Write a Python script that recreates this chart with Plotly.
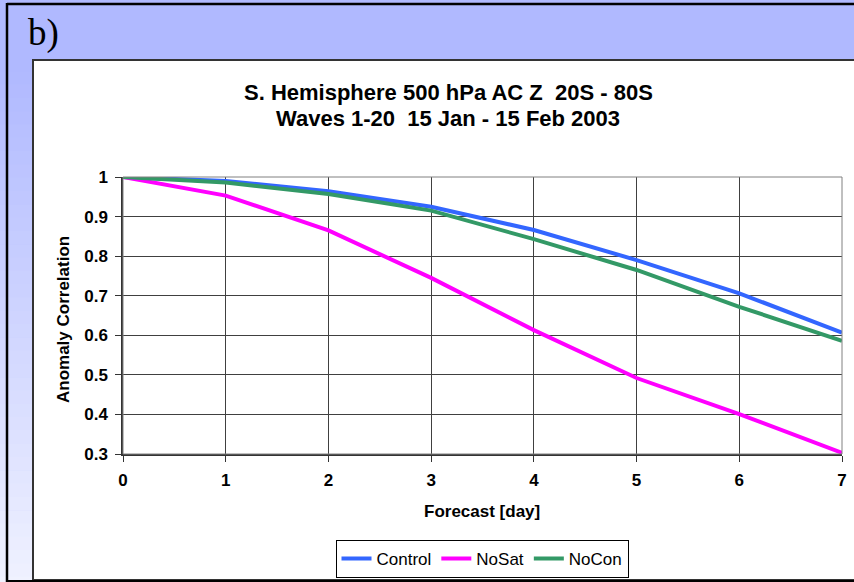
import plotly.graph_objects as go

days = [0, 1, 2, 3, 4, 5, 6, 7]
control = [1.0, 0.990, 0.964, 0.925, 0.866, 0.790, 0.706, 0.607]
nosat = [1.0, 0.953, 0.865, 0.745, 0.613, 0.492, 0.401, 0.303]
nocon = [1.0, 0.986, 0.957, 0.915, 0.843, 0.765, 0.672, 0.586]

series_names = ["Control", "NoSat", "NoCon"]
series_colors = ["#3366FF", "#FF00FF", "#339966"]

x_ticks = [0, 1, 2, 3, 4, 5, 6, 7]
y_ticks = [0.3, 0.4, 0.5, 0.6, 0.7, 0.8, 0.9, 1.0]
y_tick_text = ["0.3", "0.4", "0.5", "0.6", "0.7", "0.8", "0.9", "1"]

W, H = 854, 582
# plot area in screen pixels
SX0, SX1, SY0, SY1 = 123, 842, 177, 454
L = SX0
R = W - SX1
T = SY0
B = H - SY1
PW, PH = W - L - R, H - T - B


def px(x):
    return (x - L) / PW


def py(y):
    return (H - B - y) / PH


fig = go.Figure()
for name, vals, col in zip(series_names, [control, nosat, nocon], series_colors):
    fig.add_trace(go.Scatter(x=days, y=vals, mode="lines", name=name,
                             line=dict(color=col, width=4), cliponaxis=False))

shapes = []
# left gradient strip (both sides of the frame line)
n = 40
top_c = (176, 185, 255)
bot_c = (240, 242, 255)
y0p, y1p = 58, 590
for i in range(n):
    a = y0p + (y1p - y0p) * i / n
    b = y0p + (y1p - y0p) * (i + 1) / n
    t = i / (n - 1)
    c = tuple(int(top_c[k] + (bot_c[k] - top_c[k]) * t) for k in range(3))
    shapes.append(dict(type="rect", xref="paper", yref="paper", layer="below",
                       x0=px(-5), x1=px(33), y0=py(b + 0.5), y1=py(a),
                       line=dict(width=0), fillcolor="rgb(%d,%d,%d)" % c))
# white chart box
shapes.append(dict(type="rect", xref="paper", yref="paper", layer="below",
                   x0=px(33), x1=px(870), y0=py(580), y1=py(60),
                   line=dict(color="#333333", width=2), fillcolor="white"))
# black frame lines
shapes.append(dict(type="line", xref="paper", yref="paper", x0=px(7), x1=px(870),
                   y0=py(4), y1=py(4), line=dict(color="black", width=2.5)))
shapes.append(dict(type="line", xref="paper", yref="paper", x0=px(7), x1=px(7),
                   y0=py(3), y1=py(590), line=dict(color="black", width=2.5)))
shapes.append(dict(type="line", xref="paper", yref="paper", x0=px(7), x1=px(870),
                   y0=py(581), y1=py(581), line=dict(color="black", width=2)))
# plot border top/right
shapes.append(dict(type="rect", xref="paper", yref="paper", x0=0, x1=1, y0=0, y1=1,
                   line=dict(color="#808080", width=1)))

annotations = [
    dict(text="b)", x=px(26), y=py(33), xref="paper", yref="paper", xanchor="left",
         yanchor="middle", showarrow=False,
         font=dict(family="Liberation Serif", size=37, color="black")),
    dict(text="<b>S. Hemisphere 500 hPa AC Z &nbsp;20S - 80S</b>", x=px(448), y=py(92),
         xref="paper", yref="paper", xanchor="center", yanchor="middle", showarrow=False,
         font=dict(family="Liberation Sans", size=22, color="black")),
    dict(text="<b>Waves 1-20 &nbsp;15 Jan - 15 Feb 2003</b>", x=px(448), y=py(119),
         xref="paper", yref="paper", xanchor="center", yanchor="middle", showarrow=False,
         font=dict(family="Liberation Sans", size=22, color="black")),
    dict(text="<b>Forecast [day]</b>", x=px(482), y=py(511),
         xref="paper", yref="paper", xanchor="center", yanchor="middle", showarrow=False,
         font=dict(family="Liberation Sans", size=17, color="black")),
    dict(text="<b>Anomaly Correlation</b>", x=px(63), y=py(320), textangle=-90,
         xref="paper", yref="paper", xanchor="center", yanchor="middle", showarrow=False,
         font=dict(family="Liberation Sans", size=17, color="black")),
]

fig.update_layout(
    width=W, height=H, autosize=False,
    margin=dict(l=L, r=R, t=T, b=B, pad=0, autoexpand=False),
    paper_bgcolor="#B0B9FF",
    plot_bgcolor="white",
    shapes=shapes,
    annotations=annotations,
    showlegend=True,
    legend=dict(orientation="h", x=482 / W, y=1 - 559 / H, xref="container", yref="container",
                xanchor="center", yanchor="middle",
                bordercolor="black", borderwidth=1, bgcolor="white",
                font=dict(family="Liberation Sans", size=17, color="black"),
                itemwidth=30, tracegroupgap=0),
    xaxis=dict(range=[0, 7], tickvals=x_ticks, ticktext=[str(v) for v in x_ticks],
               automargin=False,
               showgrid=True, gridcolor="#404040", gridwidth=1,
               showline=True, linecolor="#333333", linewidth=1.5,
               ticks="outside", ticklen=6, tickcolor="#333333",
               ticklabelstandoff=4,
               tickfont=dict(family="Liberation Sans", size=17, color="black", weight="bold"),
               zeroline=False, fixedrange=True),
    yaxis=dict(range=[0.3, 1.0], tickvals=y_ticks, ticktext=y_tick_text,
               automargin=False,
               showgrid=True, gridcolor="#404040", gridwidth=1,
               showline=True, linecolor="#333333", linewidth=1.5,
               ticks="outside", ticklen=6, tickcolor="#333333",
               ticklabelstandoff=4,
               tickfont=dict(family="Liberation Sans", size=17, color="black", weight="bold"),
               zeroline=False, fixedrange=True),
)

fig.write_html("out.html",
               config={"displayModeBar": False, "responsive": False},
               post_script="document.body.style.margin='0';"
                           "document.body.style.overflow='hidden';"
                           "document.documentElement.style.background='#B0B9FF';")
